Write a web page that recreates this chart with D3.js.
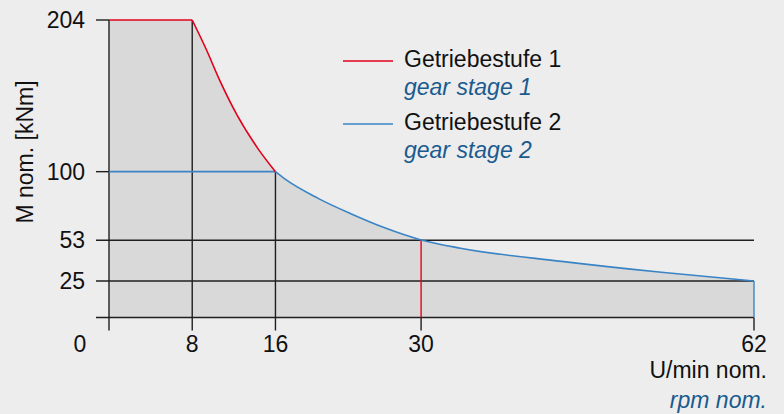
<!DOCTYPE html>
<html>
<head>
<meta charset="utf-8">
<script src="https://cdn.jsdelivr.net/npm/d3@7"></script>
<style>
  body { margin: 0; background: #ededed; }
  svg { display: block; font-family: "Liberation Sans", Arial, sans-serif; }
</style>
</head>
<body>
<svg width="784" height="414"></svg>
<script>
// values
var xTicks = [8, 16, 30, 62];
var yTicks = [25, 53, 100, 204];
// gear stage 1: flat part, then decay
var stage1Flat = [[0, 204], [8, 204]];
var stage1Curve = [[8, 204], [9.3, 184.6], [10.7, 161.7], [12.3, 138.9], [14.3, 116], [16, 100]];
// gear stage 2
var stage2Flat = [[0, 100], [16, 100]];
var stage2Curve = [[16, 100], [16.9, 95], [20.1, 81.7], [23.3, 71], [26.5, 61.5], [30, 53.2],
  [33.8, 47.5], [43.5, 38.5], [53.1, 31], [62, 25]];

var red = '#e3001b', blue = '#3a84c6', ink = '#1f1f1f', italicBlue = '#1a5b8f';

var svg = d3.select('svg');
var x = d3.scaleLinear().domain([0, 62]).range([109, 754]);
var y = d3.scaleLinear().domain([0, 204]).range([317.5, 20]);
var tickLen = 13;

var area = d3.area().x(d => x(d[0])).y0(y(0)).y1(d => y(d[1]));
var line = d3.line().x(d => x(d[0])).y(d => y(d[1]));

// shaded region under the envelope
[[stage1Flat, d3.curveLinear], [stage1Curve, d3.curveMonotoneX], [stage2Curve, d3.curveMonotoneX]]
  .forEach(p => {
    svg.append('path')
      .attr('d', area.curve(p[1])(p[0]))
      .attr('fill', '#d9d9d9');
  });

var grid = svg.append('g').attr('stroke', ink).attr('stroke-width', 1.4).attr('fill', 'none');

// horizontal lines 53, 25 and baseline across the full width
[0, 25, 53].forEach(v => {
  grid.append('line')
    .attr('x1', x(0) - tickLen).attr('x2', x(62))
    .attr('y1', y(v)).attr('y2', y(v));
});
// y ticks for 100 and 204
[100, 204].forEach(v => {
  grid.append('line')
    .attr('x1', x(0) - tickLen).attr('x2', x(0))
    .attr('y1', y(v)).attr('y2', y(v));
});

// vertical lines up to the envelope
var vTops = [[0, 204, ink], [8, 204, ink], [16, 100, ink], [30, 53, red], [62, 25, blue]];
vTops.forEach(t => {
  svg.append('line')
    .attr('x1', x(t[0])).attr('x2', x(t[0]))
    .attr('y1', y(t[1])).attr('y2', y(0))
    .attr('stroke', t[2]).attr('stroke-width', 1.4);
  grid.append('line')
    .attr('x1', x(t[0])).attr('x2', x(t[0]))
    .attr('y1', y(0)).attr('y2', y(0) + tickLen);
});

// curves
svg.append('path').attr('d', line.curve(d3.curveLinear)(stage2Flat))
  .attr('fill', 'none').attr('stroke', blue).attr('stroke-width', 1.6);
svg.append('path').attr('d', line.curve(d3.curveLinear)(stage1Flat))
  .attr('fill', 'none').attr('stroke', red).attr('stroke-width', 1.6);
svg.append('path').attr('d', line.curve(d3.curveMonotoneX)(stage1Curve))
  .attr('fill', 'none').attr('stroke', red).attr('stroke-width', 1.6);
svg.append('path').attr('d', line.curve(d3.curveMonotoneX)(stage2Curve))
  .attr('fill', 'none').attr('stroke', blue).attr('stroke-width', 1.6);

// tick labels
var fs = 23;
svg.selectAll('text.yt').data(yTicks).enter().append('text')
  .attr('x', x(0) - 24).attr('y', d => y(d)).attr('dy', '0.35em')
  .attr('text-anchor', 'end').attr('font-size', fs).attr('fill', '#111')
  .text(d => d);
svg.selectAll('text.xt').data(xTicks).enter().append('text')
  .attr('x', d => x(d)).attr('y', 352)
  .attr('text-anchor', 'middle').attr('font-size', fs).attr('fill', '#111')
  .text(d => d);
svg.append('text').attr('x', x(0) - 29).attr('y', 352)
  .attr('text-anchor', 'middle').attr('font-size', fs).attr('fill', '#111').text('0');

// axis titles
svg.append('text')
  .attr('transform', 'translate(33,152) rotate(-90)')
  .attr('text-anchor', 'middle').attr('font-size', fs).attr('fill', '#111')
  .text('M nom. [kNm]');
svg.append('text').attr('x', 767).attr('y', 378)
  .attr('text-anchor', 'end').attr('font-size', fs).attr('fill', '#111').text('U/min nom.');
svg.append('text').attr('x', 767).attr('y', 408)
  .attr('text-anchor', 'end').attr('font-size', fs).attr('font-style', 'italic')
  .attr('fill', italicBlue).text('rpm nom.');

// legend
var legend = [
  { color: red, de: 'Getriebestufe 1', en: 'gear stage 1', y: 61 },
  { color: blue, de: 'Getriebestufe 2', en: 'gear stage 2', y: 124 }
];
legend.forEach(l => {
  svg.append('line').attr('x1', 343).attr('x2', 393).attr('y1', l.y).attr('y2', l.y)
    .attr('stroke', l.color).attr('stroke-width', 1.4);
  svg.append('text').attr('x', 404).attr('y', l.y + 6)
    .attr('font-size', fs).attr('fill', '#111').text(l.de);
  svg.append('text').attr('x', 404).attr('y', l.y + 34)
    .attr('font-size', fs).attr('font-style', 'italic').attr('fill', italicBlue).text(l.en);
});
</script>
</body>
</html>
